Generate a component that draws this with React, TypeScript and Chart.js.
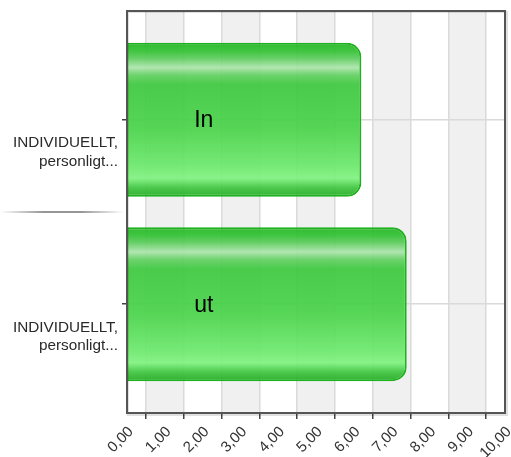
import { useEffect, useRef } from "react";
import { Chart, registerables } from "chart.js";

Chart.register(...registerables);

// ---- data ----
const categories: string[][] = [
  ["INDIVIDUELLT,", "personligt..."],
  ["INDIVIDUELLT,", "personligt..."],
];
const barNames = ["In", "ut"];
const values = [6.2, 7.4];
const xMin = 0;
const xMax = 10;
const xStep = 1;
const shadedBands: [number, number][] = [
  [0.5, 1.5],
  [2.5, 3.5],
  [4.5, 5.5],
  [6.5, 7.5],
  [8.5, 9.5],
];
const barNameAt = 2.03;

const BAR_PCT = 0.835;

function rgba(hex: string, a: number) {
  const n = parseInt(hex.slice(1), 16);
  return `rgba(${(n >> 16) & 255},${(n >> 8) & 255},${n & 255},${a})`;
}

const gradStops: [number, string][] = [
  [0.0, "#24b624"],
  [0.05, "#30c030"],
  [0.1, "#5ccc5c"],
  [0.16, "#ace4ac"],
  [0.21, "#62d062"],
  [0.27, "#3ec83e"],
  [0.55, "#49d249"],
  [0.8, "#6ce86c"],
  [0.88, "#80f280"],
  [0.94, "#40c640"],
  [1.0, "#22aa22"],
];

const fitX = (s: any) => {
  s.paddingTop = 0;
  s.paddingBottom = 0;
  s.paddingLeft = 0;
  s.paddingRight = 0;
  s.height = 44;
};
const fitY = (s: any) => {
  s.paddingTop = 0;
  s.paddingBottom = 0;
  s.paddingLeft = 0;
  s.paddingRight = 0;
  s.width = 115;
};

const decorPlugin = {
  id: "decor",
  beforeDraw(chart: any) {
    const { ctx, chartArea } = chart;
    const xs = chart.scales.x;
    ctx.save();
    ctx.fillStyle = "#f0f0f0";
    for (const [a, b] of shadedBands) {
      const x1 = xs.getPixelForValue(a);
      const x2 = xs.getPixelForValue(b);
      ctx.fillRect(x1, chartArea.top, x2 - x1, chartArea.bottom - chartArea.top);
    }
    ctx.restore();
  },
  afterDatasetsDraw(chart: any) {
    const { ctx, chartArea } = chart;
    const xs = chart.scales.x;
    const ys = chart.scales.y;
    const meta = chart.getDatasetMeta(0);
    ctx.save();
    // bar names
    ctx.fillStyle = "#000";
    ctx.font = '23px "Liberation Sans", Arial, sans-serif';
    ctx.textAlign = "center";
    ctx.textBaseline = "middle";
    meta.data.forEach((el: any, i: number) => {
      ctx.fillText(barNames[i], xs.getPixelForValue(barNameAt), el.y + 1);
    });
    // plot frame
    ctx.strokeStyle = "rgba(0,0,0,0.12)";
    ctx.lineWidth = 2;
    ctx.strokeRect(chartArea.left + 1, chartArea.top + 1, chartArea.right - chartArea.left + 1, chartArea.bottom - chartArea.top + 1);
    ctx.strokeStyle = "#555";
    ctx.lineWidth = 2;
    ctx.strokeRect(chartArea.left, chartArea.top, chartArea.right - chartArea.left, chartArea.bottom - chartArea.top);
    // separator between category labels
    const sy = ys.getPixelForValue(0.5);
    const g = ctx.createLinearGradient(0, 0, chartArea.left - 3, 0);
    g.addColorStop(0, "rgba(80,80,80,0)");
    g.addColorStop(0.35, "rgba(80,80,80,0.8)");
    g.addColorStop(0.65, "rgba(80,80,80,0.8)");
    g.addColorStop(1, "rgba(80,80,80,0)");
    ctx.strokeStyle = g;
    ctx.lineWidth = 1.5;
    ctx.beginPath();
    ctx.moveTo(0, sy);
    ctx.lineTo(chartArea.left - 3, sy);
    ctx.stroke();
    ctx.restore();
  },
};

export default function App() {
  const ref = useRef<HTMLCanvasElement | null>(null);

  useEffect(() => {
    if (!ref.current) return;
    const chart = new Chart(ref.current, {
      type: "bar",
      data: {
        datasets: [
          {
            data: values.map((v, i) => ({ x: v, y: i })),
            backgroundColor: (c: any) => {
              const ch = c.chart;
              const ys = ch.scales.y;
              if (!ch.chartArea || !ys) return "#44cc44";
              const cy = ys.getPixelForValue(c.dataIndex);
              const pitch = Math.abs(ys.getPixelForValue(1) - ys.getPixelForValue(0));
              const half = (pitch * BAR_PCT) / 2;
              const g = ch.ctx.createLinearGradient(0, cy - half, 0, cy + half);
              for (const [o, col] of gradStops) g.addColorStop(o, rgba(col, 0.93));
              return g;
            },
            borderColor: "#1db21d",
            borderWidth: 2,
            borderRadius: 14,
            borderSkipped: "start",
            barPercentage: BAR_PCT,
            categoryPercentage: 1,
          },
        ],
      },
      options: {
        indexAxis: "y",
        responsive: false,
        animation: false,
        layout: {
          autoPadding: false,
          padding: { top: 11, right: 6, bottom: 0, left: 12 },
        },
        plugins: {
          legend: { display: false },
          tooltip: { enabled: false },
        },
        scales: {
          x: {
            type: "linear",
            position: "bottom",
            min: xMin,
            max: xMax,
            offset: false,
            border: { display: false },
            afterFit: fitX,
            grid: {
              offset: true,
              color: "#dadada",
              lineWidth: 1.5,
              tickColor: "#444",
              tickLength: 6,
            },
            ticks: {
              stepSize: xStep,
              minRotation: 45,
              maxRotation: 45,
              labelOffset: 4,
              padding: 4,
              color: "#333",
              font: { family: '"Liberation Sans", Arial, sans-serif', size: 15 },
              callback: (v: any) => Number(v).toFixed(2).replace(".", ","),
            },
          },
          y: {
            type: "linear",
            position: "left",
            reverse: true,
            min: -0.59,
            max: 1.59,
            offset: false,
            border: { display: false },
            afterBuildTicks: (s: any) => {
              s.ticks = categories.map((_, i) => ({ value: i }));
            },
            afterFit: fitY,
            grid: {
              offset: false,
              color: "#dadada",
              lineWidth: 1.5,
              tickColor: "#444",
              tickLength: 5,
            },
            ticks: {
              padding: 4,
              labelOffset: 32.5,
              color: "#2a2a2a",
              font: { family: '"Liberation Sans", Arial, sans-serif', size: 15.3 },
              callback: (v: any) => categories[Math.round(Number(v))] ?? "",
            },
          },
        },
      },
      plugins: [decorPlugin],
    } as any);
    return () => chart.destroy();
  }, []);

  return (
    <div style={{ position: "absolute", left: 0, top: 0, width: 511, height: 457, background: "#fff" }}>
      <canvas ref={ref} width={511} height={457} style={{ display: "block" }} />
    </div>
  );
}
